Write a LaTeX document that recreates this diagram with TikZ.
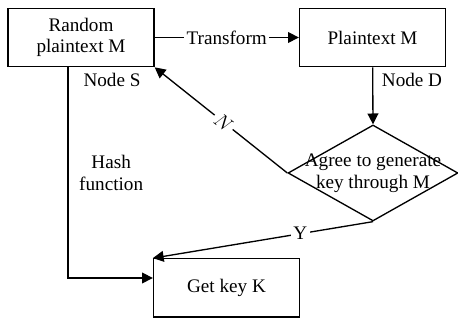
\documentclass[tikz,border=0pt]{standalone}
\usepackage{fontspec}
\setmainfont{Liberation Serif}
\usetikzlibrary{positioning,arrows.meta,shapes.geometric}

\begin{document}
\begin{tikzpicture}[x=0.6pt,y=-0.6pt,
  every node/.style={font=\fontsize{11.5}{13}\selectfont},
  box/.style={draw,line width=0.8pt,minimum width=87.6pt,minimum height=35pt,align=center,inner sep=2pt},
  link/.style={line width=0.8pt,-{Triangle[length=6.5pt,width=6.5pt]}},
  tag/.style={fill=white,inner sep=1.5pt}]
\useasboundingbox (0,0) rectangle (458,320);
\node[box] (MS) at (81,37.5) {Random\\plaintext M};
\node[box] (MD) at (372.5,37.5) {Plaintext M};
\node[box] (K) at (226.5,288) {Get key K};
\node[diamond,draw,line width=0.8pt,inner sep=0pt,minimum width=102pt,minimum height=57.6pt,aspect=1.77] (A) at (373,173) {};
\node[align=center] at (A) {Agree to generate\\key through M};
\node at (112,80) {Node S};
\node at (412,80) {Node D};
\draw[link] (MS) -- node[tag] {Transform} (MD);
\draw[link] (MD) -- (A.north);
\draw[link] (A.west) -- node[tag,sloped,pos=0.48] {$N$} (MS.south east);
\draw[link] (A.south) -- node[tag,pos=0.33] {Y} (K.north west);
\draw[link] ([xshift=-7.8pt]MS.south) |- node[pos=0.25,right,xshift=3pt,align=center] {Hash\\function} ([yshift=6pt]K.west);
\end{tikzpicture}
\end{document}
